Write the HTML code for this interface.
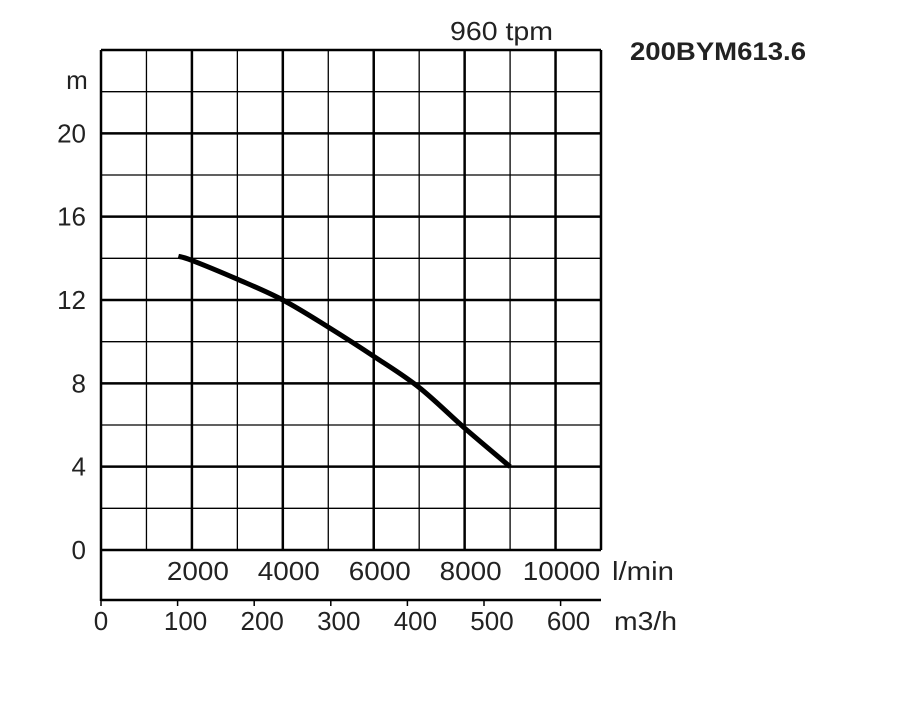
<!DOCTYPE html>
<html><head><meta charset="utf-8"><style>
body{margin:0;background:#fff}
svg text{font-family:"Liberation Sans",sans-serif;fill:#222}
</style></head><body>
<svg id="chart" width="900" height="700" xmlns="http://www.w3.org/2000/svg">
<rect width="900" height="700" fill="#fff"/>
<text x="450" y="40" font-size="26" textLength="103" lengthAdjust="spacingAndGlyphs">960 tpm</text>
<text x="630" y="60" font-size="25" font-weight="bold" textLength="176" lengthAdjust="spacingAndGlyphs" fill="#000">200BYM613.6</text>
<text x="77" y="89" font-size="26" text-anchor="middle">m</text>
<g id="grid"></g>
<g id="yticks"></g>
<g id="xticks"></g>
<g id="mticks"></g>
<text x="612" y="580" font-size="26" textLength="62" lengthAdjust="spacingAndGlyphs">l/min</text>
<text x="614" y="630" font-size="26" textLength="63" lengthAdjust="spacingAndGlyphs">m3/h</text>
<path id="curve" fill="none" stroke="#000" stroke-width="5" stroke-linejoin="round"/>
</svg>
<script>
const flowLmin=[1700,2000,3000,4000,5000,6000,7000,8000,9000];
const headM=[14.1,13.9,13.0,12.0,10.7,9.3,7.8,5.85,4.0];
const yTicks=[0,4,8,12,16,20];
const xTicks=[2000,4000,6000,8000,10000];
const m3hTicks=[0,100,200,300,400,500,600];
const X0=101,X1=601,Y0=550,Y1=50;
const sx=v=>X0+v/11000*(X1-X0);
const sy=v=>Y0-v/24*(Y0-Y1);
const sm=v=>X0+v/100*76.6;
const NS="http://www.w3.org/2000/svg";
function mk(tag,attrs,parent,txt){const e=document.createElementNS(NS,tag);for(const k in attrs)e.setAttribute(k,attrs[k]);if(txt!==undefined)e.textContent=txt;parent.appendChild(e);return e;}
const grid=document.getElementById('grid');
for(let i=0;i<=11;i++){const x=sx(i*1000);
 const l=mk('line',{x1:x,x2:x,y1:Y1,y2:Y0,stroke:'#000','stroke-width':(i%2==0||i==11)?2.5:1.3},grid);
 
 }
for(let j=0;j<=12;j++){const y=sy(j*2);
 const l=mk('line',{x1:X0,x2:X1,y1:y,y2:y,stroke:'#000','stroke-width':(j%2==0||j==12)?2.5:1.3},grid);
 
 }
mk('line',{x1:X0,x2:X0,y1:Y0,y2:601,stroke:'#000','stroke-width':2.5},grid);
mk('line',{x1:X0,x2:X1,y1:600,y2:600,stroke:'#000','stroke-width':2.5},grid);
const yt=document.getElementById('yticks');
yTicks.forEach(v=>{const t=mk('text',{x:86,y:sy(v)+9,'font-size':26,'text-anchor':'end'},yt,v);
 
 });
const xt=document.getElementById('xticks');
xTicks.forEach(v=>{const t=mk('text',{x:sx(v)+6,y:580,'font-size':26,'text-anchor':'middle',textLength:String(v).length*15.5,lengthAdjust:'spacingAndGlyphs'},xt,v);
 
 });
const mt=document.getElementById('mticks');
m3hTicks.forEach(v=>{const x=sm(v);
 mk('line',{x1:x,x2:x,y1:600,y2:606,stroke:'#000','stroke-width':1.5},mt);
 const t=mk('text',{x:v==0?x:x+8,y:630,'font-size':26,'text-anchor':'middle'},mt,v);
 
 });
const P=flowLmin.map((f,i)=>[sx(f),sy(headM[i])]);
let d='M'+P[0][0].toFixed(1)+' '+P[0][1].toFixed(1);
for(let i=0;i<P.length-1;i++){
 const p0=P[Math.max(0,i-1)],p1=P[i],p2=P[i+1],p3=P[Math.min(P.length-1,i+2)];
 const c1=[p1[0]+(p2[0]-p0[0])/6,p1[1]+(p2[1]-p0[1])/6];
 const c2=[p2[0]-(p3[0]-p1[0])/6,p2[1]-(p3[1]-p1[1])/6];
 d+='C'+c1.map(n=>n.toFixed(1)).join(' ')+' '+c2.map(n=>n.toFixed(1)).join(' ')+' '+p2.map(n=>n.toFixed(1)).join(' ');
}
document.getElementById('curve').setAttribute('d',d);
</script>
</body></html>
